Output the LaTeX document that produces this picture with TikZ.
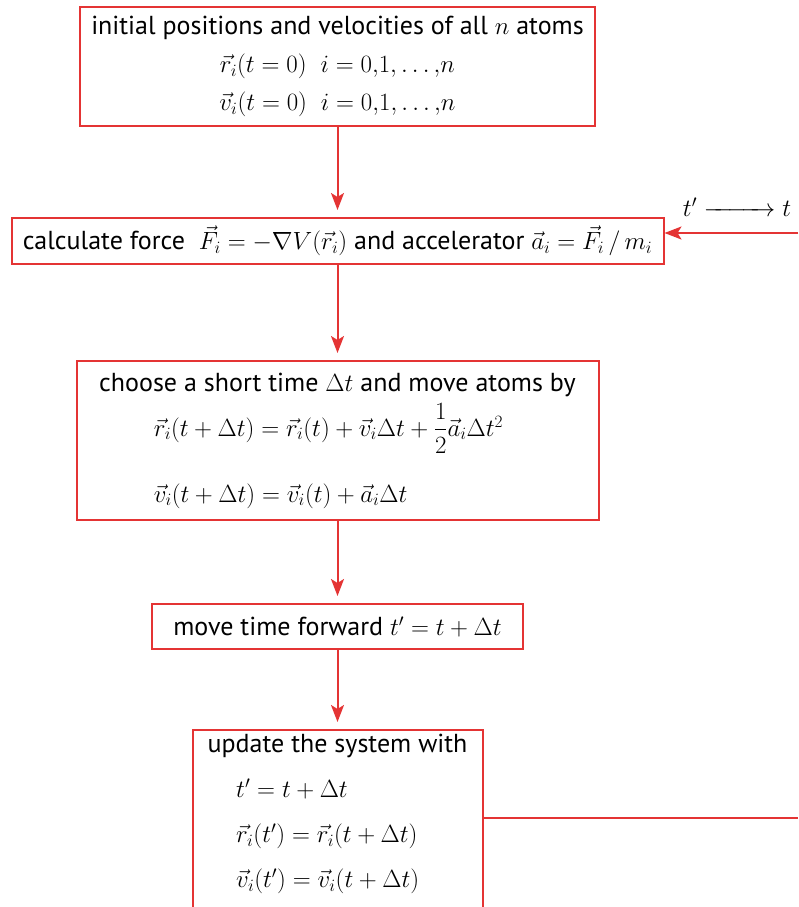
\documentclass[tikz,border=0pt]{standalone}
\usepackage{amsmath}
\usepackage[no-math]{fontspec}
\setmainfont{PT Sans}
\usepackage{tikz}
\usetikzlibrary{arrows.meta,positioning}
\definecolor{flowred}{RGB}{228,52,52}

\begin{document}
\begin{tikzpicture}[
    x=1pt, y=1pt,
    box/.style={draw=flowred, line width=2pt, inner sep=5pt, font=\fontsize{26}{38}\selectfont},
    arr/.style={-{Stealth[length=17pt,width=13pt,inset=4pt]}, draw=flowred, fill=flowred, line width=2pt},
    wire/.style={draw=flowred, line width=2pt}
  ]
    \useasboundingbox (0,0) rectangle (798,-907);
    \node[box, minimum width=515pt, minimum height=119pt, align=center] (init) at (337.5,-66.5)
      {initial positions and velocities of all $n$ atoms\\
       $\vec{r}_i(t=0)\ \ i=0{,}1{,}\ldots{,}n$\\
       $\vec{v}_i(t=0)\ \ i=0{,}1{,}\ldots{,}n$};
    \node[box, below=90pt of init, minimum width=652pt, minimum height=46pt] (force)
      {calculate force\ \ $\vec{F}_i=-\nabla V(\vec{r}_i)$\ and accelerator $\vec{a}_i=\vec{F}_i\,/\,m_i$};
    \node[box, below=95pt of force, minimum width=522pt, minimum height=159pt, align=left] (advance)
      {choose a short time $\Delta t$ and move atoms by\\[6pt]
       \hspace*{2.1em}$\vec{r}_i(t+\Delta t)=\vec{r}_i(t)+\vec{v}_i\Delta t+\dfrac{1}{2}\vec{a}_i\Delta t^2$\\[28pt]
       \hspace*{2.1em}$\vec{v}_i(t+\Delta t)=\vec{v}_i(t)+\vec{a}_i\Delta t$};
    \node[box, below=82pt of advance, minimum width=371pt, minimum height=45pt] (forward)
      {move time forward $t'=t+\Delta t$};
    \node[box, below=79pt of forward, minimum width=290pt, inner ysep=4pt, text depth=40pt, align=left,
          font=\fontsize{26}{45}\selectfont] (update)
      {update the system with\\
       \hspace*{1.1em}$t'=t+\Delta t$\\
       \hspace*{1.1em}$\vec{r}_i(t')=\vec{r}_i(t+\Delta t)$\\
       \hspace*{1.1em}$\vec{v}_i(t')=\vec{v}_i(t+\Delta t)$};
    \coordinate (back) at (798,-233);
    \coordinate (out) at (798,-818);
    \node[font=\fontsize{26}{30}\selectfont] (swap) at (737,-207) {$t'\xrightarrow{\hspace*{58pt}}t$};
    \draw[arr, shorten >=7pt] (init) -- (force);
    \draw[arr, shorten >=7pt] (force) -- (advance);
    \draw[arr, shorten >=7pt] (advance) -- (forward);
    \draw[arr, shorten >=7pt] (forward) -- (update);
    \draw[arr] (back) -- (back -| force.east);
    \draw[wire] (out -| update.east) -- (out);
  \end{tikzpicture}
\end{document}
